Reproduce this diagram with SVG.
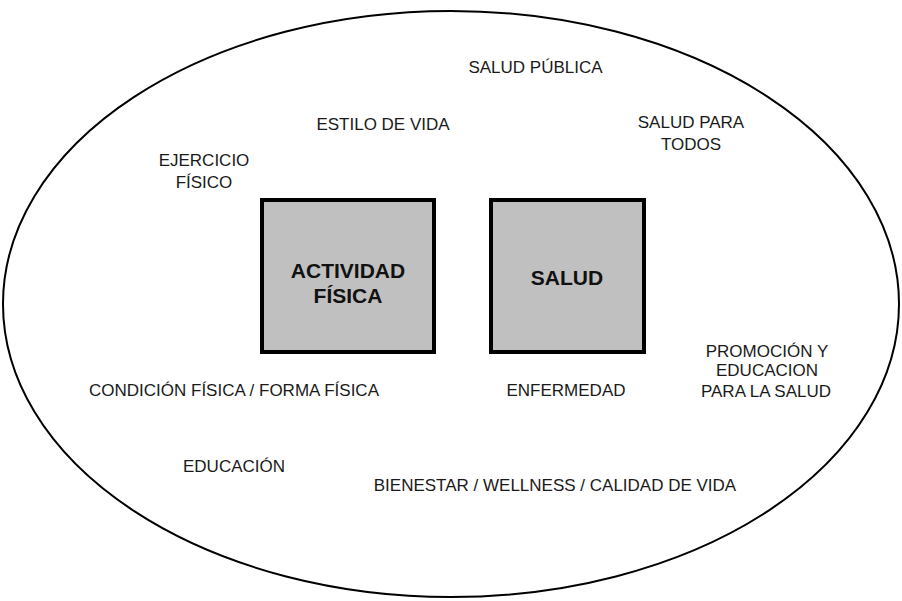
<svg xmlns="http://www.w3.org/2000/svg" width="902" height="601" viewBox="0 0 902 601">
<style>
.t{font-family:"Liberation Sans",Arial,sans-serif;font-size:17px;fill:#1a1a1a;text-anchor:middle}
.b{font-family:"Liberation Sans",Arial,sans-serif;font-size:21px;font-weight:bold;fill:#111;text-anchor:middle}
.box{fill:#c0c0c0;stroke:#000;stroke-width:4}
</style>
<rect width="902" height="601" fill="#fff"/>
<g id="frame"><ellipse cx="451" cy="304" rx="448" ry="293" fill="none" stroke="#000" stroke-width="2"/></g>
<g id="actividad"><rect class="box" x="262" y="200" width="172" height="152"/><text class="b" x="348" y="278">ACTIVIDAD</text><text class="b" x="348" y="303">FÍSICA</text></g>
<g id="salud"><rect class="box" x="491" y="200" width="153" height="152"/><text class="b" x="567" y="285">SALUD</text></g>
<g id="connectors"></g>
<g id="labels">
<text class="t" x="535.5" y="73">SALUD PÚBLICA</text>
<text class="t" x="383" y="130">ESTILO DE VIDA</text>
<text class="t" x="204" y="166">EJERCICIO</text>
<text class="t" x="204" y="188">FÍSICO</text>
<text class="t" x="691" y="128">SALUD PARA</text>
<text class="t" x="691" y="150">TODOS</text>
<text class="t" x="234" y="396">CONDICIÓN FÍSICA / FORMA FÍSICA</text>
<text class="t" x="566" y="396">ENFERMEDAD</text>
<text class="t" x="767" y="357">PROMOCIÓN Y</text>
<text class="t" x="767" y="376">EDUCACION</text>
<text class="t" x="766" y="397">PARA LA SALUD</text>
<text class="t" x="234" y="472">EDUCACIÓN</text>
<text class="t" x="555" y="491">BIENESTAR / WELLNESS / CALIDAD DE VIDA</text>
</g>
</svg>
